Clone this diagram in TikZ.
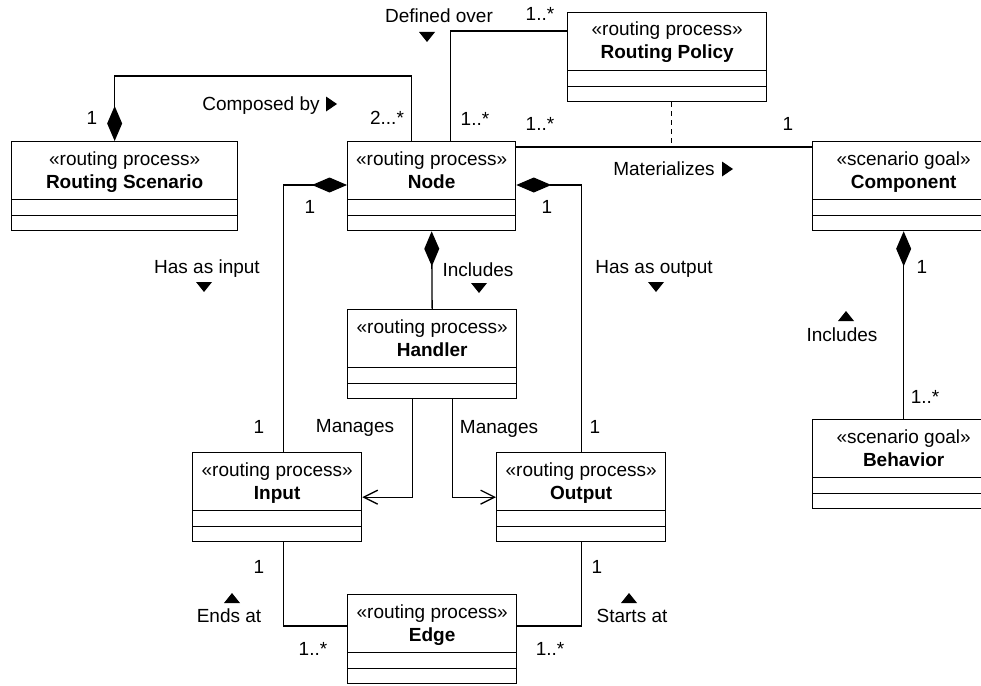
\documentclass[tikz,border=0pt]{standalone}
\usepackage{fontspec}
\setmainfont{Liberation Sans}
\usetikzlibrary{arrows.meta}

\tikzset{
  classbox/.style={draw, line width=1.3pt, minimum height=89pt, inner sep=0pt},
  lbl/.style={anchor=base, inner sep=0pt},
  assoc/.style={line width=1.3pt},
  compos/.style={assoc, {Diamond[length=35pt,width=15pt]}-},
  manages/.style={assoc, -{Straight Barb[length=14pt,width=14pt]}},
}

% class box: name, top-left, width, stereotype, title
\newcommand{\umlclass}[5]{%
  \node[classbox, minimum width=#3pt, anchor=north west] (#1) at (#2) {};
  \node[lbl] (#1-st) at ([yshift=-24pt]#1.north) {«#4»};
  \node[lbl] (#1-ti) at ([yshift=-47pt]#1.north) {\bfseries #5};
  \draw[line width=1.3pt] ([yshift=31.5pt]#1.south west) -- ([yshift=31.5pt]#1.south east);
  \draw[line width=1.3pt] ([yshift=15.5pt]#1.south west) -- ([yshift=15.5pt]#1.south east);
}
\newcommand{\tridown}[1]{\fill (#1) ++(-8,-5) -- ++(16,0) -- ++(-8,10) -- cycle;}
\newcommand{\triup}[1]{\fill (#1) ++(-8,5) -- ++(16,0) -- ++(-8,-10) -- cycle;}
\newcommand{\triright}[1]{\fill (#1) ++(-5,-7.5) -- ++(0,15) -- ++(11,-7.5) -- cycle;}

\begin{document}
\begin{tikzpicture}[x=1pt, y=-1pt, every node/.style={font=\fontsize{19}{22}\selectfont}]
  \useasboundingbox (0,0) rectangle (981,685);

  % classes
  \umlclass{scenario}{11,141}{226}{routing process}{Routing Scenario}
  \umlclass{rnode}{347,141}{168}{routing process}{Node}
  \umlclass{policy}{567,12}{199}{routing process}{Routing Policy}
  \umlclass{component}{812,141}{182}{scenario goal}{Component}
  \umlclass{handler}{347,309}{169}{routing process}{Handler}
  \umlclass{input}{192,452}{169}{routing process}{Input}
  \umlclass{output}{496,452}{169}{routing process}{Output}
  \umlclass{redge}{347,594}{169}{routing process}{Edge}
  \umlclass{behavior}{812,419}{182}{scenario goal}{Behavior}

  % associations
  \draw[compos] ([xshift=-10pt]scenario.north) -- ++(0,-65) -| ([xshift=-20pt]rnode.north);
  \draw[assoc] ([xshift=19pt]rnode.north) |- ([yshift=-19pt]policy.north west);
  \coordinate (mat) at ([yshift=-6pt]rnode.north east);
  \draw[assoc] (mat) -- ([yshift=-6pt]component.north west);
  \draw[assoc, dash pattern=on 5pt off 4pt] ([xshift=4pt]policy.south) -- ([xshift=4pt]policy.south |- mat);
  \draw[compos] ([yshift=-44pt]rnode.north west) -| ([xshift=6pt]input.north);
  \draw[compos] ([yshift=-44pt]rnode.north east) -| (output.north);
  \draw[compos] (rnode.south) -- (handler.north);
  \draw[manages] ([xshift=-20pt]handler.south) |- (input.east);
  \draw[manages] ([xshift=20pt]handler.south) |- (output.west);
  \draw[assoc] ([xshift=6pt]input.south) |- ([yshift=-32pt]redge.north west);
  \draw[assoc] (output.south) |- ([yshift=-32pt]redge.north east);
  \draw[compos] (component.south) -- (behavior.north);

  % role names and multiplicities
  \node[lbl] (composed) at (261,110) {Composed by};
  \triright{331,104}
  \node[lbl] (m-scen) at (92,124) {1};
  \node[lbl] (m-comp2) at (387,124) {2...*};
  \node[lbl] (defined) at (439,23) {Defined over};
  \tridown{427,37}
  \node[lbl] (m-pol) at (540,21) {1..*};
  \node[lbl] (m-def) at (475,125) {1..*};
  \node[lbl] (m-mat1) at (540,130) {1..*};
  \node[lbl] (m-mat2) at (788,130) {1};
  \node[lbl] (materializes) at (664,175) {Materializes};
  \triright{727,169}
  \node[lbl] (m-in1) at (310,213) {1};
  \node[lbl] (m-out1) at (547,213) {1};
  \node[lbl] (hasinput) at (207,273) {Has as input};
  \tridown{204,287}
  \node[lbl] (includes) at (478,276) {Includes};
  \tridown{479,288}
  \node[lbl] (hasoutput) at (654,273) {Has as output};
  \tridown{656,287}
  \node[lbl] (manages1) at (355,432) {Manages};
  \node[lbl] (manages2) at (499,433) {Manages};
  \node[lbl] (m-in2) at (259,433) {1};
  \node[lbl] (m-out2) at (595,433) {1};
  \node[lbl] (m-beh1) at (922,273) {1};
  \triup{846,316}
  \node[lbl] (includes2) at (842,341) {Includes};
  \node[lbl] (m-beh2) at (925,403) {1..*};
  \node[lbl] (m-in3) at (259,573) {1};
  \node[lbl] (m-out3) at (597,573) {1};
  \triup{232,598}
  \node[lbl] (endsat) at (229,622) {Ends at};
  \triup{629,598}
  \node[lbl] (startsat) at (632,622) {Starts at};
  \node[lbl] (m-edge1) at (313,655) {1..*};
  \node[lbl] (m-edge2) at (550,655) {1..*};
\end{tikzpicture}
\end{document}
